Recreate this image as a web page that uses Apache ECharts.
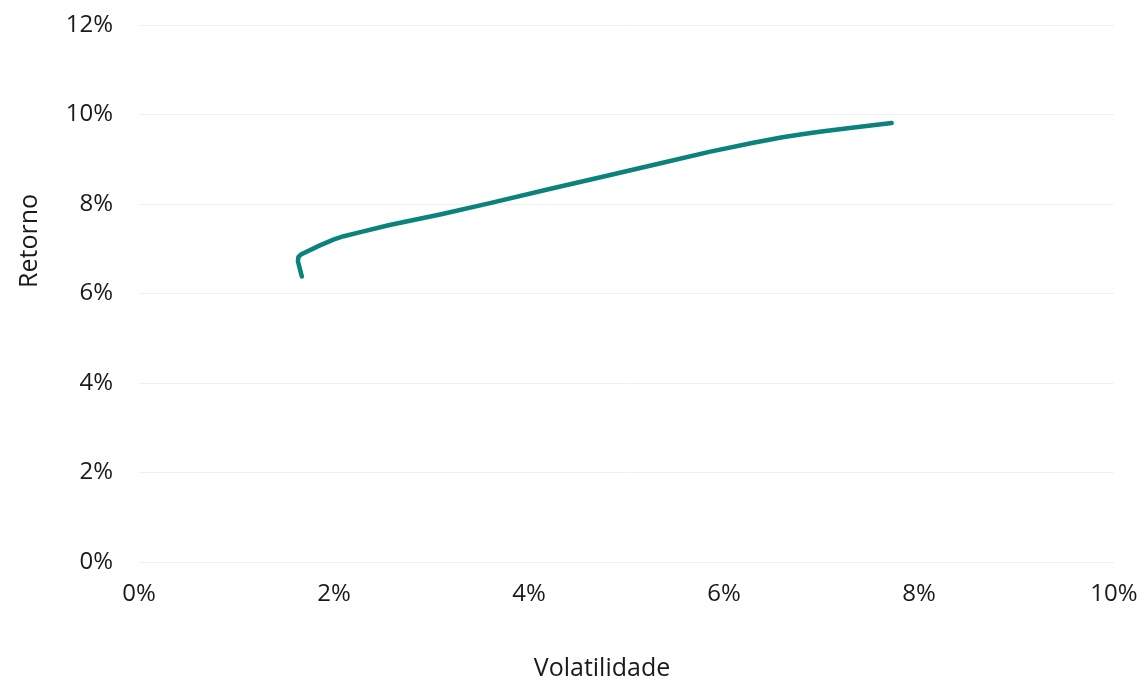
<!DOCTYPE html>
<html>
<head>
<meta charset="utf-8">
<script src="https://cdn.jsdelivr.net/npm/echarts@6/dist/echarts.min.js"></script>
<style>html,body{margin:0;padding:0;background:#fff}#c{width:1145px;height:680px}</style>
</head>
<body>
<div id="c"></div>
<script>
var volatility = [1.67, 1.65, 1.63, 1.635, 1.66, 1.85, 2.0, 2.1, 2.25, 2.57, 3.1, 3.6, 4.2, 4.8, 5.35, 5.86, 6.3, 6.6, 6.8, 7.0, 7.29, 7.72];
var returns    = [6.38, 6.55, 6.72, 6.82, 6.87, 7.07, 7.21, 7.28, 7.36, 7.53, 7.77, 8.02, 8.33, 8.63, 8.91, 9.17, 9.37, 9.49, 9.56, 9.62, 9.70, 9.81];
var xTicks = [0, 2, 4, 6, 8, 10];
var yTicks = [0, 2, 4, 6, 8, 10, 12];
var xName = 'Volatilidade';
var yName = 'Retorno';

var fontFamily = '"Open Sans", "Noto Sans", sans-serif';
var chart = echarts.init(document.getElementById('c'));
chart.setOption({
  animation: false,
  grid: { left: 139, right: 31, top: 25, bottom: 118 },
  xAxis: {
    type: 'value', min: xTicks[0], max: xTicks[xTicks.length - 1], interval: 2,
    axisLine: { show: false }, axisTick: { show: false }, splitLine: { show: false },
    axisLabel: { formatter: '{value}%', color: '#1a1a1a', fontSize: 24, fontFamily: fontFamily, margin: 20 }
  },
  yAxis: {
    type: 'value', min: yTicks[0], max: yTicks[yTicks.length - 1], interval: 2,
    axisLine: { show: false }, axisTick: { show: false },
    splitLine: { lineStyle: { color: '#f0f0f0', width: 1 } },
    axisLabel: { formatter: '{value}%', color: '#1a1a1a', fontSize: 24, fontFamily: fontFamily, margin: 26 }
  },
  graphic: [
    { type: 'text', x: 602, y: 669, style: { text: xName, fill: '#1a1a1a', font: '25px ' + fontFamily, textAlign: 'center', textVerticalAlign: 'middle' } },
    { type: 'text', x: 30, y: 241, rotation: Math.PI / 2, style: { text: yName, fill: '#1a1a1a', font: '25px ' + fontFamily, textAlign: 'center', textVerticalAlign: 'middle' } }
  ],
  series: [{
    type: 'line',
    data: volatility.map(function (v, i) { return [v, returns[i]]; }),
    showSymbol: false,
    smooth: false,
    lineStyle: { color: '#0a837d', width: 4.5, cap: 'round', join: 'round' }
  }]
});
</script>
</body>
</html>
